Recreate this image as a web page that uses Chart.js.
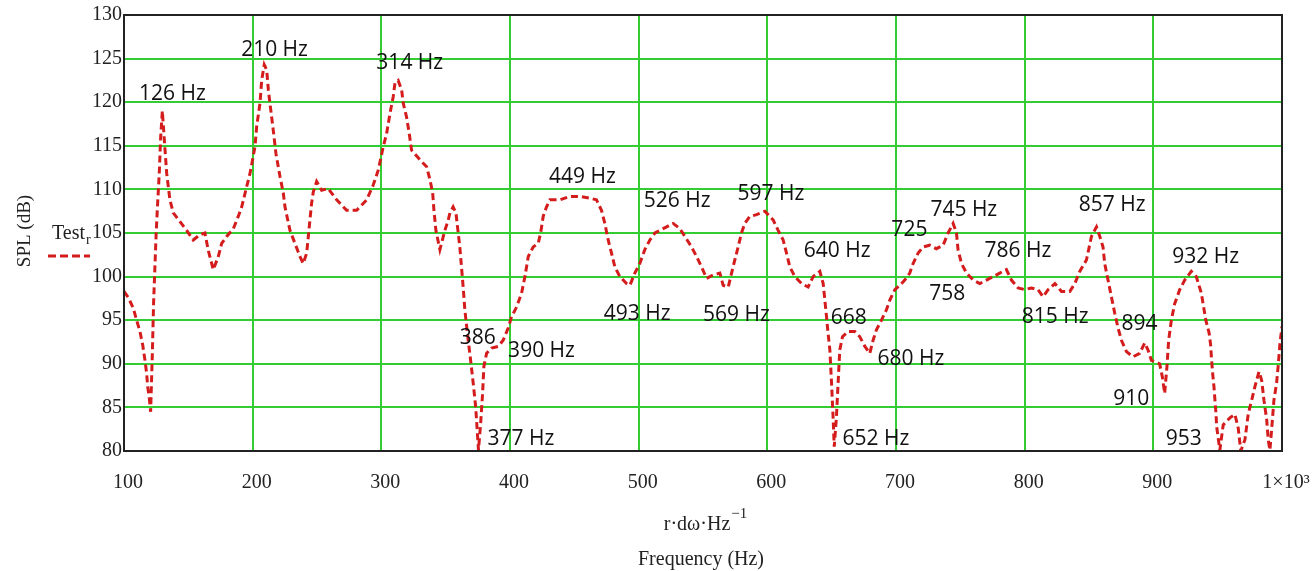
<!DOCTYPE html>
<html>
<head>
<meta charset="utf-8">
<script src="https://cdn.jsdelivr.net/npm/chart.js@4.4.1/dist/chart.umd.min.js"></script>
<style>
  html, body { margin: 0; padding: 0; background: #fff; }
</style>
</head>
<body>
<canvas id="chart" width="1312" height="571"></canvas>
<script>
// frequency (Hz) and SPL (dB)
const freq = [
  100, 103.3, 107.2, 109.8, 112.4, 114.5, 116.3, 117.6, 118.4, 119.7, 120.7,
  122, 123, 124, 125, 126, 127.4, 128.5, 129.8, 131.9, 133.2, 135.7, 138.3,
  143.5, 148.7, 153.8, 159, 162.9, 165.5, 169.4, 173.3, 175.9, 179.8, 185,
  188.8, 191.5, 195.3, 197.9, 201.8, 203.1, 205.7, 207, 209, 210.9, 212.2,
  213.4, 216, 218.1, 221.2, 223.8, 225.1, 229, 232.9, 236.8, 239.3, 242,
  244.5, 245.8, 247.1, 249.7, 253.6, 258.7, 265.3, 273, 280.8, 288.6, 293.7,
  297.6, 301.5, 304.1, 306.7, 309.2, 310.6, 313.1, 315.8, 317, 319.6, 321.7,
  323.5, 330, 335.2, 337.8, 339.9, 340.9, 342.4, 345.5, 349.4, 352, 353.3,
  355.8, 358, 359.2, 361, 362.3, 363.6, 364.9, 366.3, 367.5, 369.4, 371.4,
  373.3, 374.5, 375.5, 377.2, 378.7, 379.7, 381.8, 385.7, 390.8, 394.7,
  398.6, 401.2, 405.1, 409, 411.6, 414.2, 418, 421.9, 423.8, 425.8, 428.4,
  431, 438.8, 446.5, 454.3, 462.1, 467.2, 471.1, 473.7, 476.3, 478.9, 481.5,
  485.4, 490.6, 493.2, 497, 500.9, 504.8, 508.7, 512.6, 516.5, 521.7, 526.8,
  532, 535.9, 541.1, 545, 548.9, 552.8, 557.9, 563.1, 565.7, 569.6, 572.2,
  574.7, 577.3, 579.9, 582.5, 586.4, 591.6, 598.1, 604.5, 608.4, 612.3,
  614.9, 617.5, 621.4, 626.6, 631.7, 635.6, 640.8, 643.4, 644.7, 646, 647.2,
  648.6, 649.9, 651.1, 652, 653.7, 655, 656.3, 658.4, 662.8, 668, 671.9,
  675.8, 679.6, 682.2, 684.8, 688.7, 692.6, 695.2, 699.1, 703, 706.8, 710.7,
  713.3, 717.2, 721.1, 726.2, 731.4, 736.6, 740.5, 744.4, 747, 748.2, 750.9,
  754.8, 760, 765.1, 770.3, 775.5, 780.6, 785.8, 789.7, 794.9, 800.1, 805.2,
  810.4, 814.3, 818.2, 823.5, 828.6, 835.1, 839, 842.8, 848, 851.9, 855.8,
  858.4, 860.9, 862.2, 864.8, 867.4, 870, 872.6, 875.2, 879.1, 884.2, 889.4,
  893.3, 895.8, 898.5, 904.9, 907, 908.8, 910.6, 911.9, 914, 916.6, 920.5,
  924.4, 929.5, 933.4, 937.3, 940.8, 943.4, 944.5, 945.3, 946.1, 947.1,
  947.9, 948.7, 949.2, 950.4, 951.7, 954.3, 959.5, 963.4, 966, 967.3, 968,
  971.2, 973.8, 976.4, 979, 982.1, 984.2, 986, 988.1, 989.3, 990.6, 991.9,
  993.7, 995.8, 997, 998.4, 1000
];
const spl = [
  98.3, 97.6, 96.4, 95, 93.7, 92.2, 90.4, 88.9, 87.4, 86, 84.5,
  91, 97, 101, 105, 108, 111.8, 116, 119, 114.5, 111.8, 108.8, 107.3,
  106.3, 105.3, 104.2, 104.8, 105, 103, 100.8, 102.3, 103.8, 104.6, 105.5,
  106.9, 108, 110.3, 111.8, 114.9, 117.2, 119.9, 122.5, 124.3, 123.7, 121.4,
  119.9, 116.8, 114.1, 111.5, 109.6, 108, 105.3, 103.8, 102.3, 101.5, 102.7,
  106.5, 108.4, 109.7, 110.9, 109.9, 110.1, 108.8, 107.6, 107.6, 108.8, 110.5,
  112.2, 114.9, 116.4, 118.7, 120.6, 122.2, 122.5, 121.4, 119.9, 118.3, 116.4,
  114.5, 113.4, 112.6, 111.1, 109.6, 107.6, 105.3, 103.1, 105.3, 106.5, 107.3,
  108, 107.3, 105.7, 103.4, 101.1, 98.8, 96.2, 94.3, 92.7, 90.4, 87.8,
  85.1, 82.4, 80.1, 83.2, 86.6, 89.7, 91.2, 91.8, 92, 92.7,
  94.1, 95.4, 96.5, 98.1, 100, 102.3, 103.4, 103.8, 105, 106.9, 108,
  108.8, 108.8, 109.2, 109.2, 109, 108.8, 107.6, 106.1, 104.2, 102.7, 101.1,
  100, 99.2, 99, 100.4, 101.5, 103.1, 104.2, 105, 105.3, 105.7, 106.1,
  105.5, 104.6, 103.4, 102.3, 101.1, 99.8, 100.2, 100.4, 99, 98.8, 100.4,
  101.9, 103.4, 105, 106.1, 106.9, 107.1, 107.5, 106.5, 105.3, 104.2,
  102.7, 101.1, 100, 99.2, 98.8, 100, 100.6, 99.2, 97.3, 95.4, 93.5,
  91.6, 87.8, 83.9, 80.5, 83.9, 87.8, 91.6, 93.1, 93.7, 93.7, 93.1,
  92, 91.2, 92.7, 93.9, 95, 96.2, 97.3, 98.5, 99, 99.6, 100.4,
  101.5, 102.7, 103.4, 103.6, 103.2, 103.6, 105, 106.1, 105, 103.1, 101.5,
  100.4, 99.6, 99.2, 99.6, 100, 100.4, 100.8, 99.6, 98.7, 98.5, 98.7,
  98.5, 97.7, 98.5, 99.2, 98.3, 98.3, 99.2, 100.6, 101.9, 104.6, 105.7,
  104.6, 103.4, 101.5, 99.6, 97.7, 95.8, 94.1, 92.7, 91.4, 90.8, 91.2,
  92.4, 91.6, 90.4, 90, 88.5, 86.6, 89.7, 92.7, 95, 96.9, 98.5,
  99.6, 100.6, 100, 98.1, 95, 93.5, 92.2, 90.4, 88.9, 87.4,
  85.8, 84.3, 82.8, 81.5, 80.1, 83, 83.8, 84.2, 82.6, 80.9, 80,
  81.3, 84.3, 85.8, 87.4, 89.1, 88.1, 85.8, 83.6, 81.3, 80.1, 82.4,
  85.8, 87.8, 89.7, 92.3, 94.3
];

// peak / dip labels: text, frequency, SPL of label centre
const noteText = ["126 Hz", "210 Hz", "314 Hz", "449 Hz", "526 Hz", "597 Hz", "640 Hz", "725", "745 Hz",
  "786 Hz", "857 Hz", "932 Hz", "758", "815 Hz", "894", "910", "953", "493 Hz", "569 Hz", "386",
  "390 Hz", "377 Hz", "668", "680 Hz", "652 Hz"];
const noteFreq = [137.7, 217, 322.1, 456.3, 529.9, 602.8, 654.3, 710.4, 752.7,
  794.8, 868, 940.7, 739.9, 823.7, 889.2, 882.8, 923.7, 498.8, 575.9, 375,
  424.5, 408.5, 663.3, 711.6, 684.4];
const noteSpl = [120.9, 126.0, 124.5, 111.4, 108.7, 109.5, 102.9, 105.3, 107.6,
  102.9, 108.2, 102.3, 98.0, 95.4, 94.6, 86.0, 81.35, 95.7, 95.6, 93,
  91.5, 81.35, 95.2, 90.5, 81.35];

const serif = "'Liberation Serif', 'Times New Roman', serif";

const overlay = {
  id: "overlay",
  afterDraw(chart) {
    const { ctx, chartArea: a, scales: { x, y } } = chart;
    ctx.save();

    // plot frame
    ctx.strokeStyle = "#222";
    ctx.lineWidth = 2;
    ctx.strokeRect(a.left, a.top, a.right - a.left, a.bottom - a.top);

    // peak labels
    ctx.fillStyle = "#111";
    ctx.font = "21px 'Open Sans'";
    ctx.textAlign = "center";
    ctx.textBaseline = "middle";
    noteText.forEach((t, i) => {
      ctx.fillText(t, x.getPixelForValue(noteFreq[i]), y.getPixelForValue(noteSpl[i]));
    });

    // y title
    ctx.fillStyle = "#222";
    ctx.font = "19px " + serif;
    ctx.save();
    ctx.translate(25, 231);
    ctx.rotate(-Math.PI / 2);
    ctx.fillText("SPL (dB)", 0, 0);
    ctx.restore();

    // legend
    ctx.textAlign = "left";
    ctx.textBaseline = "alphabetic";
    ctx.font = "20px " + serif;
    ctx.fillText("Test", 52, 239);
    ctx.font = "14px " + serif;
    ctx.fillText("r", 86, 244);
    ctx.strokeStyle = "#d41c1c";
    ctx.lineWidth = 3;
    ctx.setLineDash([8, 4]);
    ctx.beginPath();
    ctx.moveTo(48, 256);
    ctx.lineTo(90, 256);
    ctx.stroke();
    ctx.setLineDash([]);

    // x titles
    ctx.font = "20px " + serif;
    const t1 = "r\u00b7d\u03c9\u00b7Hz";
    const w1 = ctx.measureText(t1).width;
    ctx.font = "15px " + serif;
    const w2 = ctx.measureText("\u22121").width;
    const sx = 705 - (w1 + w2) / 2;
    ctx.font = "20px " + serif;
    ctx.fillText(t1, sx, 530);
    ctx.font = "15px " + serif;
    ctx.fillText("\u22121", sx + w1 + 1, 518);
    ctx.font = "20px " + serif;
    ctx.textAlign = "center";
    ctx.fillText("Frequency (Hz)", 701, 565);

    ctx.restore();
  }
};

new Chart(document.getElementById("chart"), {
  type: "line",
  data: {
    datasets: [{
      label: "Test",
      data: freq.map((f, i) => ({ x: f, y: spl[i] })),
      borderColor: "#d41c1c",
      borderWidth: 3,
      borderDash: [7, 4],
      pointRadius: 0,
      tension: 0,
      fill: false
    }]
  },
  options: {
    responsive: false,
    animation: false,
    devicePixelRatio: 1,
    layout: { padding: { top: 15, right: 30, left: 0, bottom: 0 } },
    plugins: { legend: { display: false }, tooltip: { enabled: false } },
    scales: {
      x: {
        type: "linear",
        min: 100,
        max: 1000,
        afterFit: (s) => { s.height = 120; s.paddingLeft = 0; s.paddingRight = 0; },
        border: { display: false },
        grid: { color: "#33cc33", lineWidth: 2, drawTicks: false },
        ticks: {
          stepSize: 100,
          padding: 20,
          labelOffset: 4,
          maxRotation: 0,
          autoSkip: false,
          color: "#222",
          font: { family: serif, size: 20 },
          callback: (v) => (v === 1000 ? "1\u00d710\u00b3" : v)
        }
      },
      y: {
        min: 80,
        max: 130,
        afterFit: (s) => { s.width = 124; },
        border: { display: false },
        grid: { color: "#33cc33", lineWidth: 2, drawTicks: false },
        ticks: {
          stepSize: 5,
          padding: 2,
          color: "#222",
          font: { family: serif, size: 20 }
        }
      }
    }
  },
  plugins: [overlay]
});
</script>
</body>
</html>
